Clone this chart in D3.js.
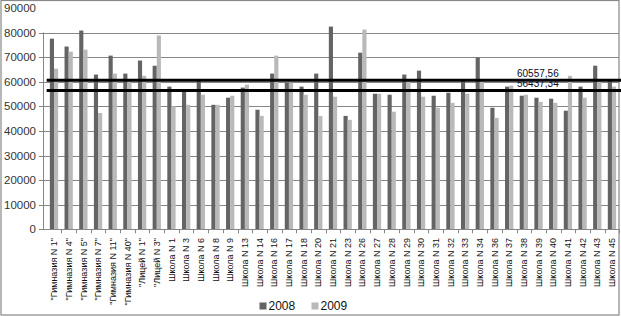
<!DOCTYPE html>
<html><head><meta charset="utf-8">
<script src="https://cdn.jsdelivr.net/npm/d3@7"></script>
<style>body{margin:0;background:#fff}svg{display:block;font-family:"Liberation Sans",Arial,sans-serif}</style>
</head><body><svg id="c" width="621" height="316"></svg>
<script>
const categories = ['"Гимназия N 1"','"Гимназия N 4"','"Гимназия N 5"','"Гимназия N 7"','"Гимназия N 11"','"Гимназия N 40"','"Лицей N 1"','"Лицей N 3"',
 'Школа N 1','Школа N 3','Школа N 6','Школа N 8','Школа N 9','Школа N 13','Школа N 14','Школа N 16','Школа N 17','Школа N 18','Школа N 20',
 'Школа N 21','Школа N 23','Школа N 26','Школа N 27','Школа N 28','Школа N 29','Школа N 30','Школа N 31','Школа N 32','Школа N 33','Школа N 34',
 'Школа N 36','Школа N 37','Школа N 38','Школа N 39','Школа N 40','Школа N 41','Школа N 42','Школа N 43','Школа N 45'];
const values2008 = [77500,74300,80800,62900,70600,63300,68600,66500,58000,55900,60800,50600,53500,57600,48600,63300,59600,58000,63300,
 82400,46100,71800,55100,54700,62900,64500,54300,55500,60800,69800,49400,58000,54300,53500,53100,48200,58000,66500,60400];
const values2009 = [65300,72200,73000,47300,63300,60500,62400,78800,50000,50600,54700,50600,54300,58800,46100,70600,59600,54700,46100,
 53900,44500,81200,55100,47800,60400,53900,49400,51400,55100,60400,45300,58400,54700,51800,51400,62400,53500,60400,58000];
const seriesNames = ["2008","2009"];
const yTicks = [0,10000,20000,30000,40000,50000,60000,70000,80000,90000];
const avgValues = [60557.56, 56437.34];
const avgLabels = ["60557,56","56437,34"];

const colors = ["#646464","#b9b9b9"];
const svg = d3.select("#c");

svg.append("rect").attr("x",1).attr("y",0.5).attr("width",618).attr("height",314.5)
  .attr("fill","none").attr("stroke","#888").attr("stroke-width",1.2);

const y = d3.scaleLinear().domain([0,90000]).range([229.3,7.9]);
const x = d3.scaleBand().domain(categories).range([46.65,619.3]).paddingInner(0.435).paddingOuter(0.2175);
const sub = d3.scaleBand().domain(seriesNames).range([0,x.bandwidth()]);

svg.append("g").selectAll("line").data(yTicks.filter(d=>d>0 && d<90000)).join("line")
  .attr("x1",43).attr("x2",619).attr("y1",d=>Math.round(y(d))+0.5).attr("y2",d=>Math.round(y(d))+0.5)
  .attr("stroke","#868686").attr("stroke-width",1);

svg.append("g").selectAll("line").data(yTicks.filter(d=>d<90000)).join("line")
  .attr("x1",39).attr("x2",43).attr("y1",d=>Math.round(y(d))+0.5).attr("y2",d=>Math.round(y(d))+0.5)
  .attr("stroke","#868686");
svg.append("g").selectAll("text").data(yTicks).join("text")
  .attr("x",36).attr("y",d=>y(d)).attr("dy","0.35em").attr("text-anchor","end")
  .attr("font-size",11.5).attr("fill","#333").text(d=>d);

const groups = svg.append("g").selectAll("g").data(categories).join("g")
  .attr("transform",d=>`translate(${x(d)},0)`);
groups.selectAll("rect").data((d,i)=>[values2008[i],values2009[i]].map((v,k)=>({k,v}))).join("rect")
  .attr("x",d=>sub(seriesNames[d.k])).attr("width",sub.bandwidth())
  .attr("y",d=>y(d.v)).attr("height",d=>y(0)-y(d.v)).attr("fill",d=>colors[d.k]);

svg.append("line").attr("x1",43.5).attr("x2",43.5).attr("y1",y(80000)).attr("y2",y(0)).attr("stroke","#868686");
svg.append("line").attr("x1",43).attr("x2",619).attr("y1",Math.round(y(0))+0.5).attr("y2",Math.round(y(0))+0.5).attr("stroke","#868686");
const step = x.step();
svg.append("g").selectAll("line").data(d3.range(1,categories.length+1)).join("line")
  .attr("x1",i=>Math.round(x.range()[0]+i*step)+0.5).attr("x2",i=>Math.round(x.range()[0]+i*step)+0.5)
  .attr("y1",y(0)).attr("y2",y(0)+4).attr("stroke","#868686");

svg.append("g").selectAll("text").data(categories).join("text")
  .attr("transform",d=>`translate(${x(d)+x.bandwidth()/2},238) rotate(-90)`)
  .attr("dy","0.35em").attr("text-anchor","end").attr("font-size",9).attr("fill","#111").text(d=>d);

svg.append("g").selectAll("line").data(avgValues).join("line")
  .attr("x1",46.65).attr("x2",621).attr("y1",d=>y(d)).attr("y2",d=>y(d))
  .attr("stroke","#000").attr("stroke-width",3);
svg.append("g").selectAll("text").data(avgValues).join("text")
  .attr("x",517).attr("y",d=>y(d)-3.5).attr("font-size",10).attr("fill","#0a0a2a")
  .text((d,i)=>avgLabels[i]);

const leg = svg.append("g");
const legX = [259.5,311.5];
seriesNames.forEach((s,i)=>{
  leg.append("rect").attr("x",legX[i]).attr("y",302.5).attr("width",7).attr("height",7).attr("fill",colors[i]);
  leg.append("text").attr("x",legX[i]+9).attr("y",309.5).attr("font-size",12).attr("fill","#111").text(s);
});
</script></body></html>
